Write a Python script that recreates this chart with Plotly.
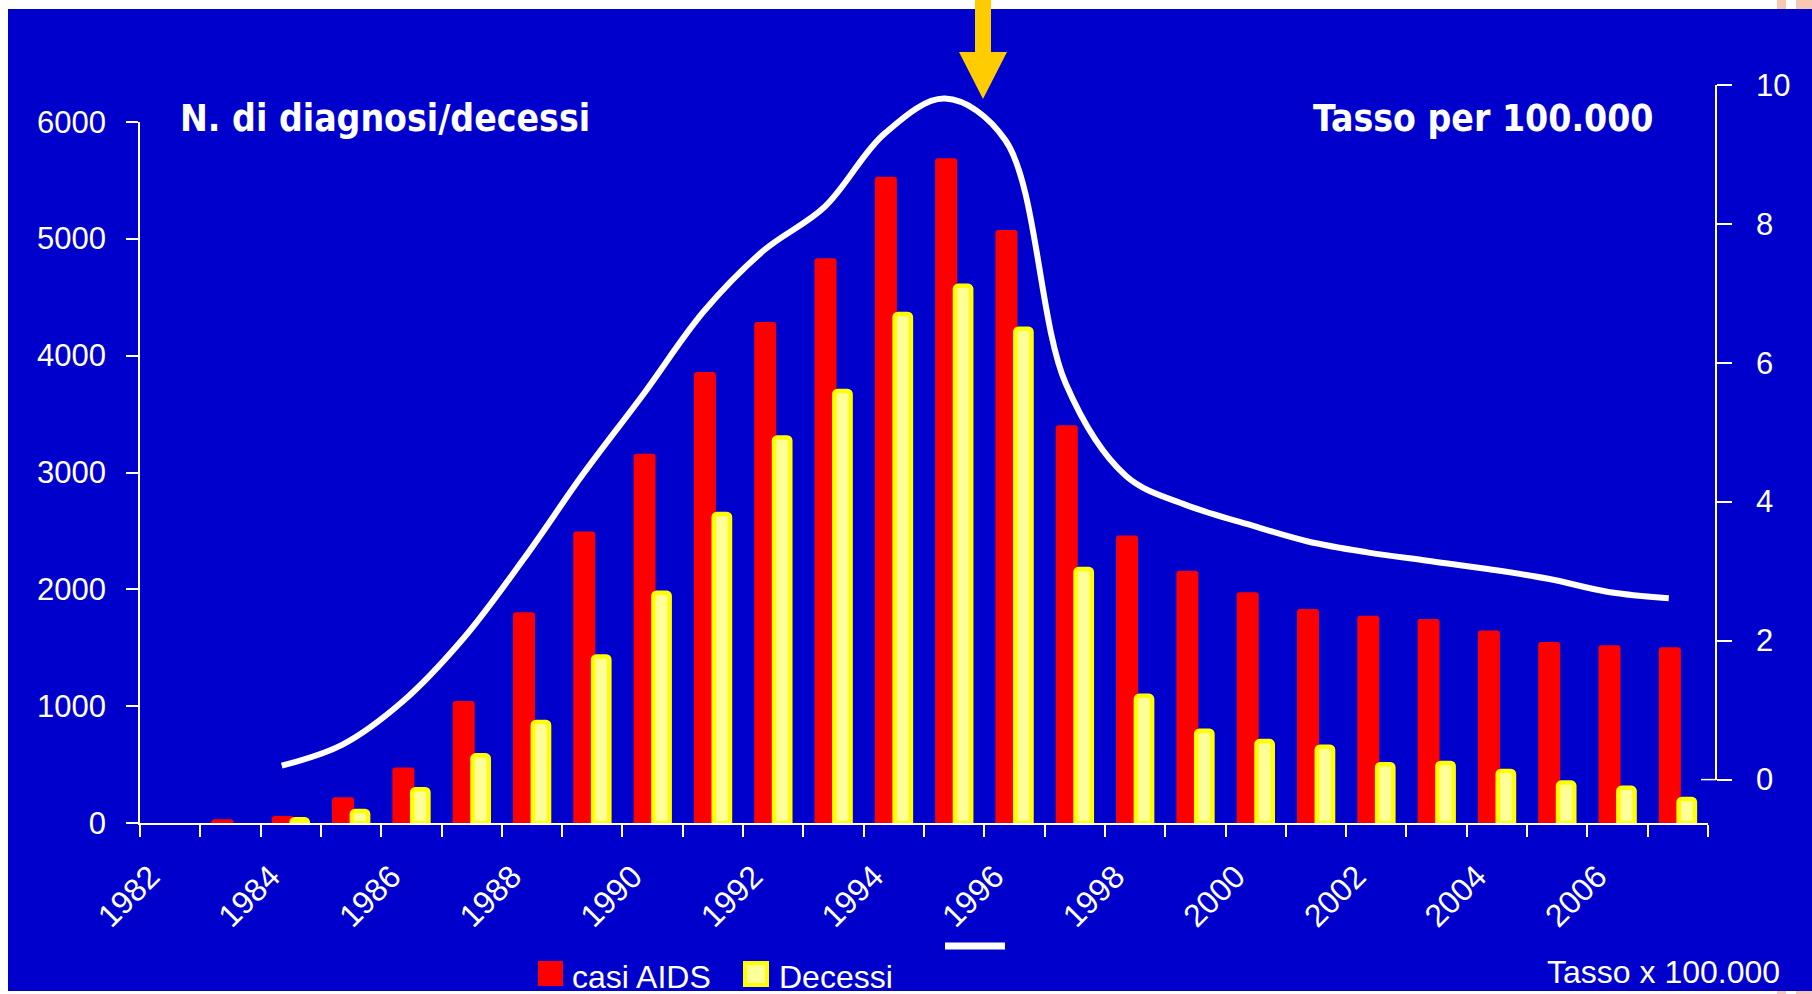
import plotly.graph_objects as go

# ---------------- data ----------------
years = list(range(1982, 2008))
casi_aids = [None, 34, 62, 222, 478, 1045, 1804, 2495, 3160, 3860, 4288, 4832, 5530,
             5688, 5074, 3404, 2462, 2160, 1975, 1833, 1775, 1748, 1648, 1550, 1522, 1506]
decessi = [None, None, 34, 105, 291, 581, 867, 1427, 1972, 2645, 3300, 3697, 4356,
           4596, 4230, 2175, 1090, 792, 703, 654, 506, 516, 447, 348, 303, 208]
tasso_years = list(range(1984, 2008))
tasso = [0.2, 0.5, 1.12, 2.02, 3.16, 4.40, 5.55, 6.74, 7.62, 8.24, 9.30, 9.80,
         9.20, 5.70, 4.37, 3.95, 3.68, 3.43, 3.27, 3.15, 3.03, 2.89, 2.70, 2.61]
label_years = list(range(1982, 2008, 2))
label_text = [str(y) for y in label_years]
left_ticks = [0, 1000, 2000, 3000, 4000, 5000, 6000]
right_ticks = [0, 2, 4, 6, 8, 10]

# ---------------- layout helpers ----------------
W, H = 1812, 994
def fx(px):
    return px / W
def fy(py):
    return 1 - py / H

BLUE = "#0000CC"
ARIAL = "Liberation Sans, Arial, sans-serif"
BOLD = "DejaVu Sans Condensed, DejaVu Sans, sans-serif"
LABEL_SHIFT = 0.33      # rotated year labels sit a little left of the category centre
LINE_SHIFT = 0.15       # rate curve drawn slightly left of the bar centres

fig = go.Figure()
fig.add_bar(x=years, y=casi_aids, width=0.365, offset=-0.3155,
            marker=dict(color="#FF0000", line=dict(width=0), cornerradius=3),
            showlegend=False, name="casi AIDS")
fig.add_bar(x=years, y=decessi, width=0.269, offset=0.0135,
            marker=dict(color="#FFFF99", line=dict(color="#FFFF00", width=4.5), cornerradius=3),
            showlegend=False, name="Decessi")
fig.add_scatter(x=tasso_years, y=tasso, xaxis="x2", yaxis="y2", mode="lines",
                line=dict(color="white", width=6, shape="spline", smoothing=1.0),
                showlegend=False, name="Tasso x 100.000")

x_dom = [fx(140), fx(1708)]
fig.update_layout(
    width=W, height=H, autosize=False,
    margin=dict(l=0, r=0, t=0, b=0, pad=0),
    paper_bgcolor="white", plot_bgcolor="rgba(0,0,0,0)",
    barmode="overlay",
    font=dict(family=ARIAL, color="white", size=30),
    xaxis=dict(domain=x_dom, range=[1981.5, 2007.5], anchor="y", automargin=False,
               tickvals=[y - LABEL_SHIFT for y in label_years], ticktext=label_text,
               tickangle=-45, ticks="", showline=True, linecolor="white", linewidth=1.5,
               showgrid=False, zeroline=False,
               tickfont=dict(family=ARIAL, size=32, color="white"),
               ticklabelstandoff=20,
               minor=dict(tick0=1981.5, dtick=1, ticks="outside", ticklen=12,
                          tickcolor="white", tickwidth=1.5, showgrid=False)),
    yaxis=dict(domain=[fy(823.3), fy(121.7)], range=[0, 6000], anchor="x", automargin=False,
               tickvals=left_ticks, ticks="outside", ticklen=12, tickcolor="white",
               tickwidth=1.5, showline=True, linecolor="white", linewidth=1.5,
               showgrid=False, zeroline=False, ticklabelstandoff=14,
               tickfont=dict(family=ARIAL, size=31, color="white")),
    xaxis2=dict(domain=x_dom, range=[1981.5 + LINE_SHIFT, 2007.5 + LINE_SHIFT], anchor="y2",
                visible=False, automargin=False),
    yaxis2=dict(domain=[fy(779.6), fy(84.7)], range=[0, 10], anchor="free",
                position=fx(1716), side="right", automargin=False,
                tickvals=right_ticks, ticks="outside", ticklen=15, tickcolor="white",
                tickwidth=1.5, showline=True, linecolor="white", linewidth=1.5,
                showgrid=False, zeroline=False, ticklabelstandoff=18,
                tickfont=dict(family=ARIAL, size=31, color="white")),
)

shapes = []
# blue slide background
shapes.append(dict(type="rect", xref="paper", yref="paper", layer="below",
                   x0=fx(8), x1=fx(1812), y0=fy(991), y1=fy(9),
                   fillcolor=BLUE, line=dict(width=0)))
# peach bits at right corners
for (a, b) in [(1777, 1786), (1796, 1812)]:
    shapes.append(dict(type="rect", xref="paper", yref="paper", layer="below",
                       x0=fx(a), x1=fx(b), y0=fy(9), y1=fy(0),
                       fillcolor="#F8C9B2", line=dict(width=0)))
    shapes.append(dict(type="rect", xref="paper", yref="paper", layer="below",
                       x0=fx(a), x1=fx(b), y0=fy(994), y1=fy(991),
                       fillcolor="#F8C9B2", line=dict(width=0)))
# short extension of the right-axis zero tick to the left
shapes.append(dict(type="line", xref="paper", yref="paper",
                   x0=fx(1701), x1=fx(1716), y0=fy(779.6), y1=fy(779.6),
                   line=dict(color="white", width=1.5)))
# arrow
pts = [(975, 0), (991, 0), (991, 52), (1007, 52), (983, 99), (959, 52), (975, 52)]
path = "M " + " L ".join(f"{fx(a):.5f},{fy(b):.5f}" for a, b in pts) + " Z"
shapes.append(dict(type="path", xref="paper", yref="paper", path=path,
                   fillcolor="#FFCC00", line=dict(width=0)))
# legend samples
LEG_Y = 961
shapes.append(dict(type="rect", xref="paper", yref="paper",
                   x0=fx(538), x1=fx(563), y0=fy(LEG_Y + 25), y1=fy(LEG_Y),
                   fillcolor="#FF0000", line=dict(width=0)))
shapes.append(dict(type="rect", xref="paper", yref="paper",
                   x0=fx(745), x1=fx(767), y0=fy(LEG_Y + 24), y1=fy(LEG_Y + 2),
                   fillcolor="#FFFF99", line=dict(color="#FFFF00", width=4)))
shapes.append(dict(type="line", xref="paper", yref="paper",
                   x0=fx(945), x1=fx(1005), y0=fy(946), y1=fy(946),
                   line=dict(color="white", width=7)))
fig.update_layout(shapes=shapes)

ann = []
ann.append(dict(text="<b>N. di diagnosi/decessi</b>", xref="paper", yref="paper",
                x=fx(178), y=fy(119), xanchor="left", yanchor="middle", showarrow=False,
                font=dict(family=BOLD, size=37, color="white")))
ann.append(dict(text="<b>Tasso per 100.000</b>", xref="paper", yref="paper",
                x=fx(1656), y=fy(119), xanchor="right", yanchor="middle", showarrow=False,
                font=dict(family=BOLD, size=37, color="white")))
ann.append(dict(text="casi AIDS", xref="paper", yref="paper",
                x=fx(570), y=fy(LEG_Y + 16), xanchor="left", yanchor="middle", showarrow=False,
                font=dict(family=ARIAL, size=32, color="white")))
ann.append(dict(text="Decessi", xref="paper", yref="paper",
                x=fx(777), y=fy(LEG_Y + 16), xanchor="left", yanchor="middle", showarrow=False,
                font=dict(family=ARIAL, size=32, color="white")))
ann.append(dict(text="Tasso x 100.000", xref="paper", yref="paper",
                x=fx(1545), y=fy(972), xanchor="left", yanchor="middle", showarrow=False,
                font=dict(family=ARIAL, size=32, color="white")))
fig.update_layout(annotations=ann)

fig.write_html("out.html")
